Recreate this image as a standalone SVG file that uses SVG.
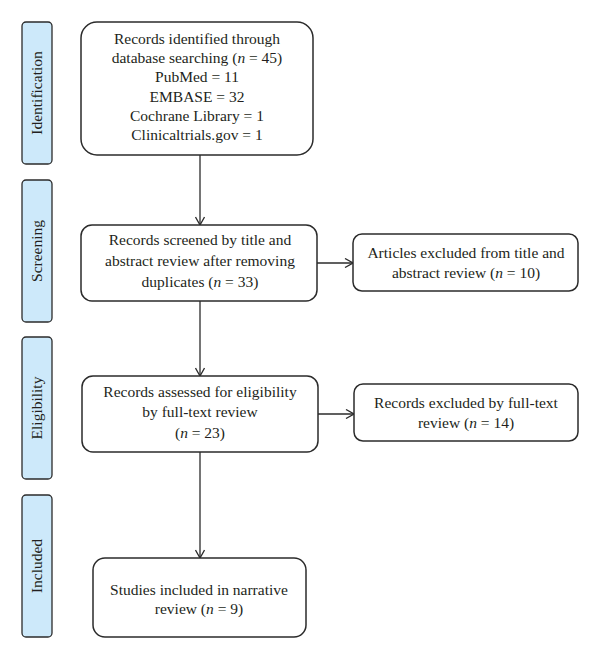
<svg xmlns="http://www.w3.org/2000/svg" width="600" height="659" viewBox="0 0 600 659">
<defs>
<style>
text{font-family:"Liberation Serif","Times New Roman",serif;font-size:15.5px;fill:#231f20;text-anchor:middle}
.lab rect{fill:#cde9fa;stroke:#2b2b2b;stroke-width:1.3}
.node rect{fill:#fff;stroke:#2b2b2b;stroke-width:1.5}
.conn line{stroke:#2b2b2b;stroke-width:1.3;fill:none}
i,.it{font-style:italic}
</style>
<marker id="ah" viewBox="0 0 10 10" refX="9" refY="5" markerWidth="10" markerHeight="10" markerUnits="userSpaceOnUse" orient="auto">
<path d="M1,0.5 L9,5 L1,9.5" fill="none" stroke="#2b2b2b" stroke-width="1.3"/>
</marker>
</defs>
<rect width="600" height="659" fill="#fff"/>
<g id="phase-identification" class="lab"><rect x="22" y="22" width="30" height="142" rx="4"/><text transform="translate(42,93) rotate(-90)">Identification</text></g>
<g id="phase-screening" class="lab"><rect x="22" y="180" width="30" height="142" rx="4"/><text transform="translate(42,251) rotate(-90)">Screening</text></g>
<g id="phase-eligibility" class="lab"><rect x="22" y="337" width="30" height="142" rx="4"/><text transform="translate(42,408) rotate(-90)">Eligibility</text></g>
<g id="phase-included" class="lab"><rect x="22" y="495" width="30" height="142" rx="4"/><text transform="translate(42,566) rotate(-90)">Included</text></g>

<g id="conn" class="conn">
<line x1="200" y1="155" x2="200" y2="225" marker-end="url(#ah)"/>
<line x1="200" y1="301" x2="200" y2="376" marker-end="url(#ah)"/>
<line x1="200" y1="452" x2="200" y2="558" marker-end="url(#ah)"/>
<line x1="317" y1="263" x2="353" y2="263" marker-end="url(#ah)"/>
<line x1="318" y1="414" x2="354" y2="414" marker-end="url(#ah)"/>
</g>

<g id="n-identified" class="node"><rect x="81" y="22" width="232" height="133" rx="16"/>
<text x="197" y="43.5">Records identified through</text>
<text x="197" y="63">database searching (<tspan class="it">n</tspan> = 45)</text>
<text x="197" y="82">PubMed = 11</text>
<text x="197" y="101.5">EMBASE = 32</text>
<text x="197" y="121">Cochrane Library = 1</text>
<text x="197" y="140">Clinicaltrials.gov = 1</text>
</g>
<g id="n-screened" class="node"><rect x="81" y="225" width="236" height="76" rx="11"/>
<text x="200" y="245">Records screened by title and</text>
<text x="200" y="266">abstract review after removing</text>
<text x="200" y="287">duplicates (<tspan class="it">n</tspan> = 33)</text>
</g>
<g id="n-excluded1" class="node"><rect x="353" y="234" width="225" height="57" rx="9"/>
<text x="466" y="257.5">Articles excluded from title and</text>
<text x="466" y="277.5">abstract review (<tspan class="it">n</tspan> = 10)</text>
</g>
<g id="n-assessed" class="node"><rect x="82" y="376" width="236" height="76" rx="11"/>
<text x="200" y="397">Records assessed for eligibility</text>
<text x="200" y="417">by full-text review</text>
<text x="200" y="437.5">(<tspan class="it">n</tspan> = 23)</text>
</g>
<g id="n-excluded2" class="node"><rect x="354" y="384" width="224" height="57" rx="9"/>
<text x="466" y="408">Records excluded by full-text</text>
<text x="466" y="428">review (<tspan class="it">n</tspan> = 14)</text>
</g>
<g id="n-included" class="node"><rect x="93" y="558" width="213" height="79" rx="12"/>
<text x="199" y="595">Studies included in narrative</text>
<text x="199" y="614">review (<tspan class="it">n</tspan> = 9)</text>
</g>
</svg>
